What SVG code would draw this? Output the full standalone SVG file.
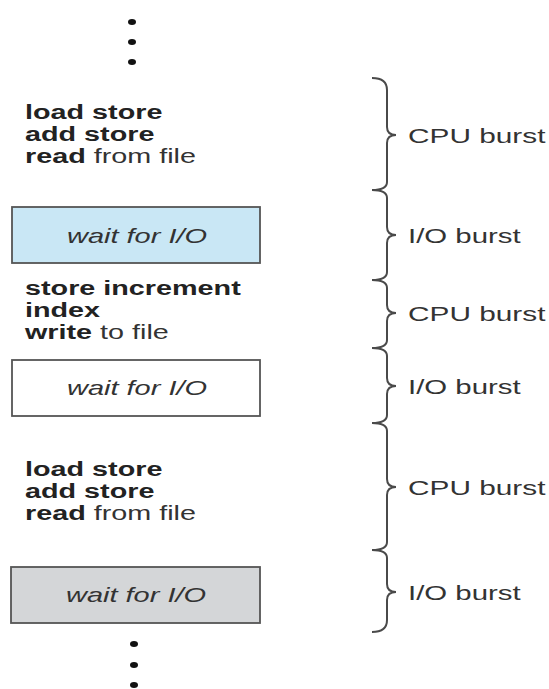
<svg xmlns="http://www.w3.org/2000/svg" width="549" height="689" viewBox="0 0 549 689">
<style>
.t{font-family:"Liberation Sans",Arial,sans-serif;font-size:21px;fill:#222}
.b{font-weight:bold}
.r{fill:#333}
.i{font-style:italic;fill:#333}
.box{stroke:#555;stroke-width:1.8}
.dot{fill:#111}
.brace{fill:none;stroke:#4a4a4a;stroke-width:2}
.lab{font-family:"Liberation Sans",Arial,sans-serif;font-size:21px;fill:#333}
</style>
<rect width="549" height="689" fill="#fff"/>
<g id="dots-top">
<ellipse class="dot" cx="132" cy="22" rx="4" ry="3"/>
<ellipse class="dot" cx="132" cy="42" rx="4" ry="3"/>
<ellipse class="dot" cx="132" cy="62" rx="4" ry="3"/>
</g>
<g id="cpu1" transform="matrix(1.37,0,0,1,25,0)">
<text class="t b" x="0" y="119">load store</text>
<text class="t b" x="0" y="141">add store</text>
<text class="t" x="0" y="163"><tspan class="b">read</tspan><tspan class="r"> from file</tspan></text>
</g>
<g id="io1">
<rect class="box" x="12" y="207" width="248" height="56" fill="#c9e7f5"/>
<text class="t i" transform="matrix(1.38,0,0,1,137,243)" x="0" y="0" text-anchor="middle">wait for I/O</text>
</g>
<g id="cpu2" transform="matrix(1.37,0,0,1,25,0)">
<text class="t b" x="0" y="295">store increment</text>
<text class="t b" x="0" y="317">index</text>
<text class="t" x="0" y="339"><tspan class="b">write</tspan><tspan class="r"> to file</tspan></text>
</g>
<g id="io2">
<rect class="box" x="12" y="360" width="248" height="56" fill="#fff"/>
<text class="t i" transform="matrix(1.38,0,0,1,137,395)" x="0" y="0" text-anchor="middle">wait for I/O</text>
</g>
<g id="cpu3" transform="matrix(1.37,0,0,1,25,0)">
<text class="t b" x="0" y="476">load store</text>
<text class="t b" x="0" y="498">add store</text>
<text class="t" x="0" y="520"><tspan class="b">read</tspan><tspan class="r"> from file</tspan></text>
</g>
<g id="io3">
<rect class="box" x="11" y="567" width="249" height="56" fill="#d4d6d8"/>
<text class="t i" transform="matrix(1.38,0,0,1,136,602)" x="0" y="0" text-anchor="middle">wait for I/O</text>
</g>
<g id="dots-bottom">
<ellipse class="dot" cx="134" cy="644" rx="4" ry="3"/>
<ellipse class="dot" cx="134" cy="665" rx="4" ry="3"/>
<ellipse class="dot" cx="134" cy="685" rx="4" ry="3"/>
</g>
<g id="connectors">
<path class="brace" d="M372,78 Q387,78 387,90 L387,127 Q387,135 396,135 Q387,135 387,143 L387,182 Q387,190 372,190 Q387,190 387,198 L387,227 Q387,235 396,235 Q387,235 387,243 L387,272 Q387,280 372,280 Q387,280 387,288 L387,305 Q387,313 396,313 Q387,313 387,321 L387,340 Q387,348 372,348 Q387,348 387,356 L387,378 Q387,386 396,386 Q387,386 387,394 L387,415 Q387,423 372,423 Q387,423 387,431 L387,479 Q387,487 396,487 Q387,487 387,495 L387,542 Q387,550 372,550 Q387,550 387,558 L387,584 Q387,592 396,592 Q387,592 387,600 L387,620 Q387,632 372,632"/>
</g>
<g id="labels">
<text class="lab" transform="matrix(1.42,0,0,1,408,143)">CPU burst</text>
<text class="lab" transform="matrix(1.4,0,0,1,408,243)">I/O burst</text>
<text class="lab" transform="matrix(1.42,0,0,1,408,321)">CPU burst</text>
<text class="lab" transform="matrix(1.4,0,0,1,408,394)">I/O burst</text>
<text class="lab" transform="matrix(1.42,0,0,1,408,495)">CPU burst</text>
<text class="lab" transform="matrix(1.4,0,0,1,408,600)">I/O burst</text>
</g>
</svg>
